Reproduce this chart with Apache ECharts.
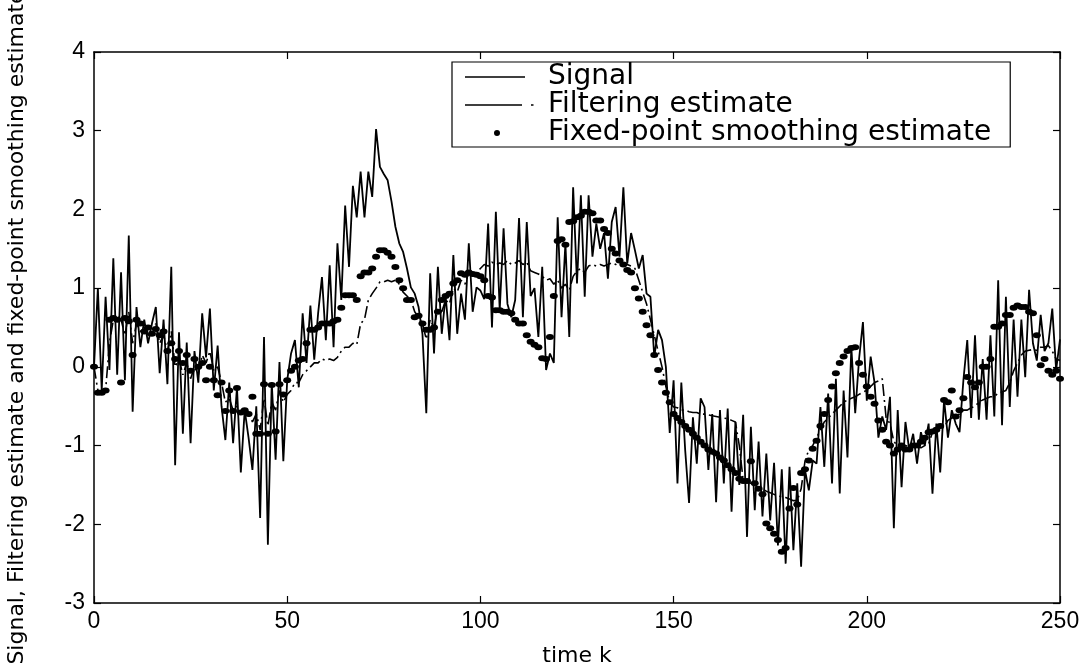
<!DOCTYPE html>
<html>
<head>
<meta charset="utf-8">
<script src="https://cdn.jsdelivr.net/npm/echarts/dist/echarts.min.js"></script>
<style>
html,body{margin:0;padding:0;background:#fff;}
#chart{width:1082px;height:668px;}
</style>
</head>
<body>
<div id="chart"></div>
<script>
// ---- data (k = 0..250) ----
const signal = [
 0.00, 1.00,-0.30, 0.89,-0.04, 1.38,-0.10, 1.20,-0.17, 1.67,
-0.57, 0.76, 0.25, 0.60, 0.30, 0.55, 0.76,-0.08, 0.60,-0.22,
 1.27,-1.25, 0.44,-0.85, 0.31,-0.97, 0.20,-0.20, 0.68, 0.12,
 0.74,-0.30, 0.27,-0.50,-0.93,-0.20,-0.97,-0.26,-1.34,-0.55,
-0.90,-1.31,-0.50,-1.92, 0.38,-2.26,-0.20,-1.18, 0.06,-1.20,
-0.17, 0.17, 0.34,-0.26, 0.68, 0.05, 0.78, 0.09, 0.68, 1.14,
 0.34, 1.29, 0.25, 1.57, 0.85, 2.05, 1.27, 2.30, 1.90, 2.48,
 1.90, 2.48, 2.16, 3.02, 2.54, 2.45, 2.37, 2.10, 1.78, 1.57,
 1.46, 1.25, 1.01, 0.93, 0.76, 0.42,-0.59, 1.19, 0.17, 1.27,
 0.42, 0.90, 0.34, 1.42, 0.42, 0.93, 0.60, 1.57, 0.70, 1.01,
 0.97, 0.86, 1.82, 0.50, 1.97, 0.72, 1.76, 0.80, 0.63, 0.85,
 1.89, 0.63, 1.84, 0.90, 1.00, 0.38, 1.27,-0.04, 0.17, 0.05,
 1.90, 0.63, 1.57, 0.38, 2.28, 1.06, 2.18, 0.89, 2.18, 1.40,
 1.82, 1.50, 1.70, 1.12, 1.84, 2.03, 1.40, 2.28, 1.31, 1.70,
 1.48, 1.25, 1.42, 0.93, 0.89, 0.13, 0.47, 0.34, 0.00,-0.84,
-0.17,-1.48,-0.20,-1.06,-1.73,-0.64,-1.23,-0.40,-0.51,-1.31,
-0.60,-1.72,-0.55,-1.48,-0.53,-1.84,-0.70,-1.50,-0.61,-2.16,
-0.76,-1.82,-0.95,-1.90,-1.10,-1.95,-1.22,-2.27,-1.30,-2.50,
-1.27,-2.33,-1.48,-2.54,-1.31,-1.57,-1.19,-1.23,-0.51,-1.27,
-0.34,-1.48,-0.15,-1.61,-0.30,-1.15, 0.25,-0.59, 0.10, 0.57,
-0.43, 0.13,-0.20,-0.90,-0.63,-0.80,-0.38,-2.05,-0.55,-1.53,
-0.70,-1.06,-0.85,-1.23,-0.83,-1.00,-0.72,-1.61,-0.72,-1.34,
-0.42,-0.90,-0.55,-0.72,-0.83,-0.17, 0.34,-0.65, 0.40,-0.67,
 0.10,-0.67, 0.40,-0.63, 1.10,-0.74, 0.89,-0.51, 0.60,-0.38,
 0.60,-0.13, 0.98, 0.30, 0.08, 0.66, 0.20, 0.30, 0.74,-0.04,
 0.35
];
const filtering = [
 0.00,-0.30,-0.30,-0.30, 0.30, 0.60, 0.65, 0.60, 0.40, 0.70,
 0.30, 0.55, 0.45, 0.50, 0.40, 0.45, 0.55, 0.30, 0.40, 0.20,
 0.45, 0.00, 0.10,-0.10, 0.05,-0.15, 0.00,-0.10, 0.15, 0.05,
 0.20,-0.05, 0.00,-0.20,-0.45,-0.40,-0.55,-0.50,-0.60,-0.55,
-0.60,-0.70,-0.60,-0.80,-0.40,-0.75,-0.45,-0.55,-0.30,-0.45,
-0.35,-0.30,-0.20,-0.20,-0.10,-0.05, 0.00, 0.05, 0.05, 0.10,
 0.08, 0.10, 0.08, 0.12, 0.20, 0.25, 0.25, 0.30, 0.28, 0.55,
 0.60, 0.85, 0.93, 1.00, 1.08, 1.08, 1.10, 1.08, 1.10, 1.05,
 0.95, 0.90, 0.85, 0.70, 0.63, 0.55, 0.35, 0.60, 0.50, 0.75,
 0.70, 0.85, 0.80, 1.00, 0.95, 1.10, 1.05, 1.20, 1.15, 1.20,
 1.25, 1.30, 1.28, 1.33, 1.30, 1.32, 1.30, 1.35, 1.30, 1.32,
 1.35, 1.30, 1.33, 1.22, 1.20, 1.18, 1.15, 1.10, 1.12, 1.05,
 1.10, 1.00, 1.05, 0.97, 1.15, 1.22, 1.25, 1.20, 1.28, 1.30,
 1.28, 1.30, 1.28, 1.30, 1.32, 1.30, 1.33, 1.30, 1.30, 1.28,
 1.25, 1.10, 0.95, 0.80, 0.60, 0.40, 0.20, 0.00,-0.25,-0.45,
-0.51,-0.52,-0.55,-0.55,-0.57,-0.58,-0.58,-0.60,-0.60,-0.61,
-0.62,-0.63,-0.64,-0.65,-0.66,-0.68,-0.70,-1.00,-1.44,-1.46,
-1.48,-1.50,-1.52,-1.55,-1.58,-1.60,-1.62,-1.64,-1.65,-1.66,
-1.68,-1.70,-1.70,-1.55,-1.20,-1.05,-1.00,-0.90,-0.80,-0.70,
-0.65,-0.60,-0.55,-0.50,-0.45,-0.42,-0.40,-0.38,-0.35,-0.32,
-0.30,-0.25,-0.20,-0.18,-0.15,-0.65,-0.72,-0.95,-1.00,-1.05,
-1.00,-1.02,-1.05,-1.00,-1.03,-1.00,-0.98,-0.83,-0.80,-0.78,
-0.77,-0.68,-0.65,-0.62,-0.60,-0.55,-0.55,-0.52,-0.50,-0.45,
-0.42,-0.40,-0.38,-0.38,-0.33,-0.32,-0.30,-0.20,-0.05, 0.05,
 0.15, 0.20, 0.21, 0.22, 0.21, 0.25, 0.25, 0.27, 0.20, 0.10,
 0.08
];
const smoothing = [
 0.00,-0.33,-0.33,-0.30, 0.60, 0.62, 0.60,-0.20, 0.62, 0.58,
 0.15, 0.60, 0.55, 0.45, 0.50, 0.42, 0.48, 0.40, 0.45, 0.20,
 0.30, 0.10, 0.20, 0.05, 0.15,-0.05, 0.10, 0.00, 0.05,-0.17,
 0.00,-0.17,-0.36,-0.20,-0.56,-0.30,-0.56,-0.27,-0.58,-0.55,
-0.60,-0.38,-0.85,-0.85,-0.22,-0.85,-0.23,-0.82,-0.22,-0.35,
-0.17,-0.05, 0.00, 0.08, 0.10, 0.30, 0.47, 0.47, 0.50, 0.55,
 0.55, 0.55, 0.58, 0.60, 0.75, 0.91, 0.91, 0.91, 0.85, 1.15,
 1.20, 1.20, 1.25, 1.40, 1.48, 1.48, 1.45, 1.40, 1.27, 1.10,
 1.00, 0.85, 0.85, 0.63, 0.65, 0.55, 0.47, 0.47, 0.50, 0.70,
 0.85, 0.90, 0.93, 1.06, 1.10, 1.19, 1.17, 1.20, 1.18, 1.17,
 1.15, 1.10, 0.90, 0.88, 0.72, 0.72, 0.70, 0.70, 0.68, 0.60,
 0.55, 0.55, 0.40, 0.32, 0.28, 0.25, 0.11, 0.10, 0.38, 0.90,
 1.60, 1.62, 1.55, 1.84, 1.85, 1.90, 1.92, 1.97, 1.97, 1.95,
 1.86, 1.86, 1.75, 1.70, 1.50, 1.44, 1.35, 1.30, 1.23, 1.20,
 1.00, 0.87, 0.70, 0.53, 0.40, 0.15,-0.04,-0.20,-0.33,-0.45,
-0.60,-0.65,-0.70,-0.75,-0.80,-0.85,-0.90,-0.95,-1.00,-1.05,
-1.08,-1.10,-1.15,-1.19,-1.25,-1.30,-1.35,-1.42,-1.45,-1.45,
-1.20,-1.48,-1.55,-1.62,-1.99,-2.05,-2.12,-2.20,-2.35,-2.30,
-1.80,-1.54,-1.75,-1.35,-1.30,-1.19,-1.04,-0.94,-0.75,-0.60,
-0.42,-0.25,-0.08, 0.05, 0.13, 0.20, 0.24, 0.25, 0.05,-0.10,
-0.25,-0.38,-0.47,-0.68,-0.80,-0.95,-1.00,-1.10,-1.05,-1.00,
-1.05,-1.05,-1.00,-1.00,-0.95,-0.90,-0.83,-0.82,-0.80,-0.75,
-0.42,-0.45,-0.30,-0.63,-0.55,-0.40,-0.13,-0.20,-0.26,-0.20,
 0.00, 0.00, 0.10, 0.51, 0.51, 0.55, 0.66, 0.66, 0.75, 0.78,
 0.76, 0.76, 0.70, 0.68, 0.40, 0.02, 0.10,-0.05,-0.10,-0.05,
-0.15
];
const seriesNames = ['Signal', 'Filtering estimate', 'Fixed-point smoothing estimate'];
const xRange = [0, 250], xStep = 50;
const yRange = [-3, 4], yStep = 1;
const xName = 'time k';
const yName = 'Signal, Filtering estimate and fixed-point smoothing estimate';

const pairs = arr => arr.map((v, i) => [i, v]);

const tickFont = '"Liberation Sans",sans-serif';
const textFont = '"DejaVu Sans",sans-serif';
const black = '#000';

function axisBase(extra) {
  return Object.assign({
    type: 'value',
    axisLine: {show: true, onZero: false, lineStyle: {color: black, width: 1.5}},
    axisTick: {show: true, inside: true, length: 7, lineStyle: {color: black, width: 1.2}},
    splitLine: {show: false},
    axisLabel: {show: false}
  }, extra);
}

const chart = echarts.init(document.getElementById('chart'), null, {renderer: 'canvas'});
chart.setOption({
  animation: false,
  backgroundColor: '#fff',
  grid: {left: 94, right: 22, top: 52, bottom: 65, containLabel: false, outerBoundsMode: 'none'},
  xAxis: [
    axisBase({
      min: xRange[0], max: xRange[1], interval: xStep, position: 'bottom',
      axisLabel: {show: true, color: black, fontSize: 23, fontFamily: tickFont, margin: 7},
      name: xName, nameLocation: 'middle', nameGap: 42,
      nameTextStyle: {color: black, fontSize: 22, fontFamily: textFont}
    }),
    axisBase({min: xRange[0], max: xRange[1], interval: xStep, position: 'top'})
  ],
  yAxis: [
    axisBase({
      min: yRange[0], max: yRange[1], interval: yStep, position: 'left',
      axisLabel: {show: true, color: black, fontSize: 23, fontFamily: tickFont, margin: 9},
      name: yName, nameLocation: 'middle', nameGap: 66, nameRotate: 90,
      nameTextStyle: {color: black, fontSize: 22, fontFamily: textFont}
    }),
    axisBase({min: yRange[0], max: yRange[1], interval: yStep, position: 'right'})
  ],
  legend: {
    orient: 'vertical',
    left: 452, top: 62,
    padding: [1, 19, 0, 13],
    itemGap: 0,
    itemWidth: 70, itemHeight: 10,
    backgroundColor: '#fff',
    borderColor: black, borderWidth: 1.2, borderRadius: 0,
    selectedMode: false,
    textStyle: {color: black, fontSize: 28, lineHeight: 27, fontFamily: textFont, padding: [0, 0, 0, 8]},
    data: [
      {name: seriesNames[0], icon: 'path://M0,0H60V1.6H0Z M69.9,0H70V0.1H69.9Z'},
      {name: seriesNames[1], icon: 'path://M0,0H57V1.6H0Z M66,0H68.5V1.6H66Z M69.9,0H70V0.1H69.9Z'},
      {name: seriesNames[2], icon: 'path://M0,0H0.1V0.1H0Z M69.9,5.9H70V6H69.9Z M29,3A3,3 0 1,0 35,3A3,3 0 1,0 29,3Z'}
    ]
  },
  series: [
    {
      name: seriesNames[0], type: 'line', data: pairs(signal),
      showSymbol: false, symbol: 'none', color: black,
      lineStyle: {color: black, width: 1.8}, z: 2
    },
    {
      name: seriesNames[1], type: 'line', data: pairs(filtering),
      showSymbol: false, symbol: 'none', color: black,
      lineStyle: {color: black, width: 1.6, type: [12, 4, 2, 4]}, z: 3
    },
    {
      name: seriesNames[2], type: 'scatter', data: pairs(smoothing),
      symbol: 'circle', symbolSize: [8, 6], color: black,
      itemStyle: {color: black, opacity: 1}, z: 4
    }
  ]
});
</script>
</body>
</html>
